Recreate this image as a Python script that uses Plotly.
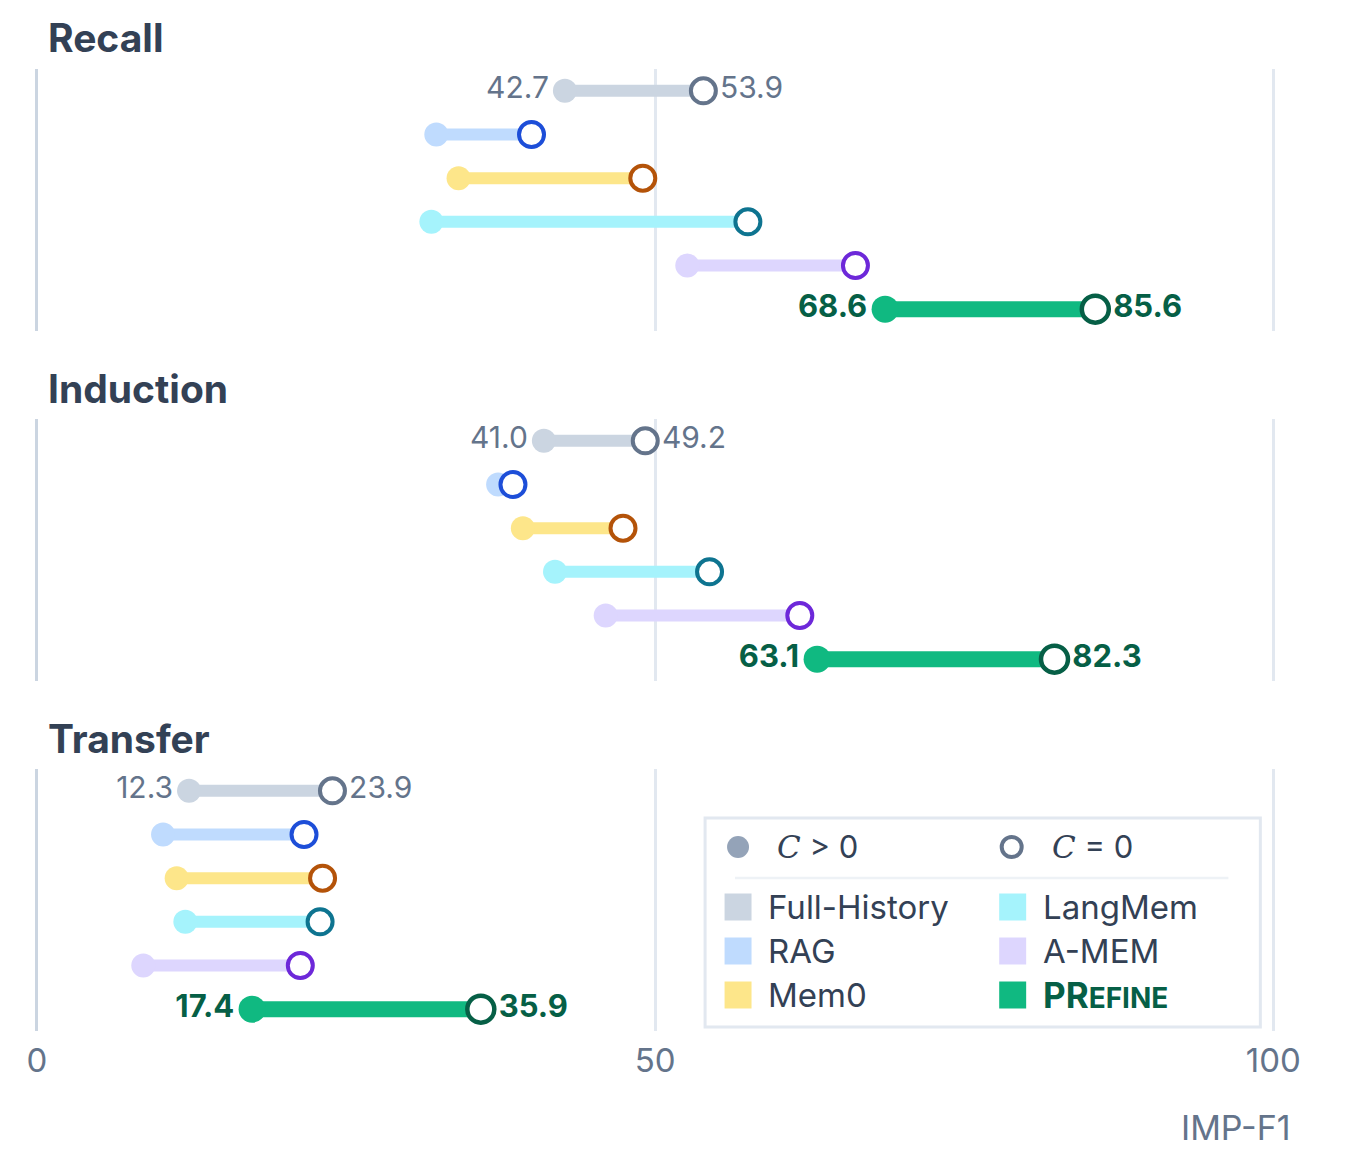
import plotly.graph_objects as go

# ---------------- data ----------------
panels = ["Recall", "Induction", "Transfer"]
methods = ["Full-History", "RAG", "Mem0", "LangMem", "A-MEM", "PRefine"]

recall_c_pos = [42.7, 32.3, 34.1, 31.9, 52.6, 68.6]
recall_c_zero = [53.9, 40.0, 49.0, 57.5, 66.2, 85.6]

induction_c_pos = [41.0, 37.3, 39.3, 41.9, 46.0, 63.1]
induction_c_zero = [49.2, 38.5, 47.4, 54.4, 61.7, 82.3]

transfer_c_pos = [12.3, 10.2, 11.3, 12.0, 8.6, 17.4]
transfer_c_zero = [23.9, 21.6, 23.1, 22.9, 21.3, 35.9]

x_ticks = [0, 50, 100]
x_title = "IMP-F1"

# ---------------- styles ----------------
OFF = 8          # page body margin
SX = 0.99        # observed horizontal scale of the captured page
W, H = 1328, 1145
FONT = "Inter, Roboto, sans-serif"
light = ["#cbd5e1", "#bfdbfe", "#fde68a", "#a5f3fc", "#ddd6fe", "#10b981"]
dark = ["#64748b", "#1d4ed8", "#b45309", "#0e7490", "#6d28d9", "#065f46"]
label_methods = {"Full-History": ("#64748b", False), "PRefine": ("#065f46", True)}


def fx(v):
    """target screen x -> figure pixel x"""
    return (v - OFF) / SX


def pxx(v):
    return fx(v) / W


def py(v):
    return 1 - (v - OFF) / H


px0, px100 = fx(37), fx(1275)
ppu = (px100 - px0) / 100.0
xr = [-1, 101]
xdom = [(px0 + xr[0] * ppu) / W, (px0 + xr[1] * ppu) / W]
panel_px = [(69, 331), (419, 681), (769, 1031)]
title_px = [38, 388, 738]

data = [
    (recall_c_pos, recall_c_zero),
    (induction_c_pos, induction_c_zero),
    (transfer_c_pos, transfer_c_zero),
]

fig = go.Figure()

for p, (cpos, czero) in enumerate(data):
    xa = "x" if p == 0 else f"x{p+1}"
    ya = "y" if p == 0 else f"y{p+1}"
    for i, m in enumerate(methods):
        is_main = m == "PRefine"
        fig.add_trace(go.Scatter(
            x=[cpos[i], czero[i]], y=[i, i], mode="lines",
            line=dict(color=light[i], width=16 if is_main else 12),
            xaxis=xa, yaxis=ya, showlegend=False, hoverinfo="skip",
        ))
    for i, m in enumerate(methods):
        is_main = m == "PRefine"
        lab = label_methods.get(m)
        txt_font = None
        if lab:
            col, bold = lab
            txt_font = dict(family=FONT, size=31 if bold else 30, color=col,
                            weight="bold" if bold else "normal")
        # filled dot (C > 0)
        fig.add_trace(go.Scatter(
            x=[cpos[i]], y=[i], mode="markers+text" if lab else "markers",
            marker=dict(size=27 if is_main else 24, color=light[i], line=dict(width=0)),
            text=[f"{cpos[i]:.1f}"] if lab else None,
            textposition="middle left", textfont=txt_font,
            xaxis=xa, yaxis=ya, showlegend=False, cliponaxis=False,
        ))
        # open circle (C = 0)
        fig.add_trace(go.Scatter(
            x=[czero[i]], y=[i], mode="markers+text" if lab else "markers",
            marker=dict(size=27 if is_main else 25, color="white",
                        line=dict(width=4.5 if is_main else 4, color=dark[i])),
            text=[f"{czero[i]:.1f}"] if lab else None,
            textposition="middle right", textfont=txt_font,
            xaxis=xa, yaxis=ya, showlegend=False, cliponaxis=False,
        ))

layout = dict(
    width=W, height=H, margin=dict(l=0, r=0, t=0, b=0),
    paper_bgcolor="white", plot_bgcolor="white",
    font=dict(family=FONT, color="#334155"),
    showlegend=False,
)
for p in range(3):
    sfx = "" if p == 0 else str(p + 1)
    top, bot = panel_px[p]
    layout["xaxis" + sfx] = dict(
        domain=xdom, range=xr, tickvals=x_ticks, ticktext=[str(t) for t in x_ticks],
        showgrid=True, gridcolor="#e2e8f0", gridwidth=2.5,
        zeroline=True, zerolinecolor="#cbd5e1", zerolinewidth=3,
        showline=False, ticks="", showticklabels=(p == 2),
        tickfont=dict(family=FONT, size=33, color="#64748b"),
        ticklabelstandoff=7,
        anchor="y" + sfx,
    )
    layout["yaxis" + sfx] = dict(
        domain=[py(bot), py(top)], range=[5.5, -0.5],
        showgrid=False, zeroline=False, showticklabels=False, ticks="",
        anchor="x" + sfx,
    )
fig.update_layout(**layout)

annotations = []
for p, name in enumerate(panels):
    annotations.append(dict(
        text=f"<b>{name}</b>", x=pxx(46), y=py(title_px[p]), xref="paper", yref="paper",
        xanchor="left", yanchor="middle", showarrow=False,
        font=dict(family=FONT, size=39, color="#334155"),
    ))
annotations.append(dict(
    text=x_title, x=pxx(1295), y=py(1127), xref="paper", yref="paper",
    xanchor="right", yanchor="middle", showarrow=False,
    font=dict(family=FONT, size=34, color="#64748b"),
))

# ---------------- custom legend ----------------
shapes = []
shapes.append(dict(type="rect", xref="paper", yref="paper",
                   x0=pxx(706), x1=pxx(1262), y0=py(1027), y1=py(818),
                   line=dict(color="#e2e8f0", width=3), fillcolor="white", layer="above"))
shapes.append(dict(type="line", xref="paper", yref="paper",
                   x0=pxx(736), x1=pxx(1230), y0=py(878), y1=py(878),
                   line=dict(color="#eef2f6", width=2.5), layer="above"))


def circle(cx, cy, r, fill, line_col=None, lw=0):
    return dict(type="circle", xref="paper", yref="paper",
                x0=pxx(cx - r), x1=pxx(cx + r), y0=py(cy + r), y1=py(cy - r),
                fillcolor=fill, line=dict(color=line_col or fill, width=lw), layer="above")


shapes.append(circle(739, 847, 11, "#94a3b8"))
shapes.append(circle(1013, 847, 10, "white", "#64748b", 4))
serif = "style='font-family:DejaVu Serif, serif'"
annotations.append(dict(text=f"<span {serif}><i>C</i></span> &gt; 0", x=pxx(776), y=py(846),
                        xref="paper", yref="paper", xanchor="left", yanchor="middle",
                        showarrow=False, font=dict(family=FONT, size=31, color="#334155")))
annotations.append(dict(text=f"<span {serif}><i>C</i></span> = 0", x=pxx(1051), y=py(846),
                        xref="paper", yref="paper", xanchor="left", yanchor="middle",
                        showarrow=False, font=dict(family=FONT, size=31, color="#334155")))

leg_cols = [(739, 767), (1014, 1042)]
leg_rows = [907, 951, 995]
for i, m in enumerate(methods):
    col = i // 3
    row = i % 3
    sx, tx = leg_cols[col]
    cy = leg_rows[row]
    s = 13.5
    shapes.append(dict(type="rect", xref="paper", yref="paper",
                       x0=pxx(sx - s), x1=pxx(sx + s), y0=py(cy + s), y1=py(cy - s),
                       fillcolor=light[i], line=dict(width=0), layer="above"))
    if m == "PRefine":
        txt = "<b>PR<span style='font-size:28px'>EFINE</span></b>"
        fcol = "#065f46"
        fs = 35
    else:
        txt = m
        fcol = "#334155"
        fs = 33
    annotations.append(dict(text=txt, x=pxx(tx), y=py(cy), xref="paper", yref="paper",
                            xanchor="left", yanchor="middle", showarrow=False,
                            font=dict(family=FONT, size=fs, color=fcol)))

fig.update_layout(shapes=shapes, annotations=annotations)
fig.write_html("out.html")
